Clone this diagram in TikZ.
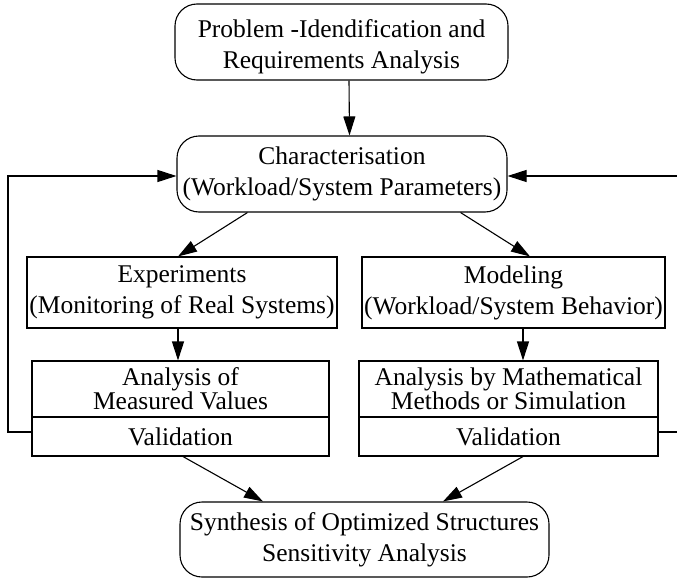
\documentclass[tikz,border=0pt]{standalone}
\usepackage{fontspec}
\setmainfont{Liberation Serif}
\usetikzlibrary{arrows.meta,calc}
\begin{document}
\begin{tikzpicture}[x=1pt,y=-1pt,
  line width=1.1pt,
  txt/.style={font=\fontsize{25.5}{31}\selectfont},
  rbox/.style={draw,rounded corners=22pt,inner sep=0pt,align=center,txt},
  sbox/.style={draw,inner sep=0pt,align=center,txt},
  arr/.style={-{Triangle[length=19pt,width=12pt]}}]
\useasboundingbox (0,0) rectangle (677,578);

% main blocks
\node[rbox,minimum width=333pt,minimum height=76pt] (top) at (341.5,42) {};
\node[txt,align=center,inner sep=0pt] (toptext) at (341.5,46.5)
  {Problem -Idendification and\\Requirements Analysis};
\node[rbox,minimum width=330pt,minimum height=76pt] (char) at (342,174)
  {Characterisation\\(Workload/System Parameters)};
\node[sbox,minimum width=310pt,minimum height=71pt] (exp) at (182,292.5)
  {Experiments\\(Monitoring of Real Systems)};
\node[sbox,minimum width=303pt,minimum height=71pt] (mod) at (513.5,292.5)
  {Modeling\\(Workload/System Behavior)};

% analysis blocks with validation part
\node[sbox,minimum width=297pt,minimum height=56pt,
  font=\fontsize{25.5}{24}\selectfont] (anaLtop) at (180.5,389)
  {Analysis of\\Measured Values};
\node[sbox,minimum width=297pt,minimum height=39pt] (anaLbot) at (180.5,436.5)
  {Validation};
\node[sbox,minimum width=299pt,minimum height=56pt,
  font=\fontsize{25.5}{24}\selectfont] (anaRtop) at (508.5,389)
  {Analysis by Mathematical\\Methods or Simulation};
\node[sbox,minimum width=299pt,minimum height=39pt] (anaRbot) at (508.5,436.5)
  {Validation};

\node[rbox,minimum width=369pt,minimum height=75pt] (syn) at (364.5,539.5)
  {Synthesis of Optimized Structures\\Sensitivity Analysis};

% connectors
\draw[arr] ($(top.south)+(7.5,0)$) -- ($(char.north)+(7.5,0)$);
\draw[arr] ($(char.south west)+(71,0)$) -- ($(exp.north)+(-4,0)$);
\draw[arr] ($(char.south east)+(-47,0)$) -- ($(mod.north)+(16.5,0)$);
\draw[arr] ($(exp.south)+(-4,0)$) -- ($(anaLtop.north)+(-2.5,0)$);
\draw[arr] ($(mod.south)+(9.5,0)$) -- ($(anaRtop.north)+(14.5,0)$);
\draw[arr] ($(anaLbot.south)+(2.5,0)$) -- ($(syn.north)+(-101.5,0)$);
\draw[arr] ($(anaRbot.south)+(14.5,0)$) -- ($(syn.north)+(78.5,0)$);

% feedback loops
\coordinate (fl) at (8,432);
\coordinate (fr) at (695,432);
\draw[arr] ($(anaLbot.west)+(0,-4.5)$) -- (fl) |- ($(char.west)+(0,2)$);
\draw[arr] ($(anaRbot.east)+(0,-4.5)$) -- (fr) |- ($(char.east)+(0,2)$);
\end{tikzpicture}
\end{document}
